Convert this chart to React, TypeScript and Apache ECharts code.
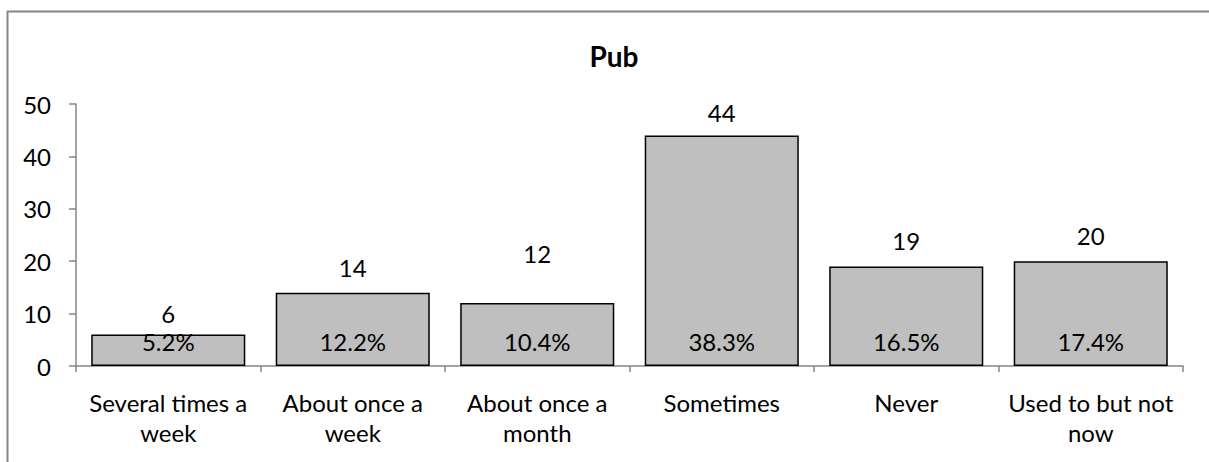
import React, { useEffect, useRef } from "react";
import * as echarts from "echarts";

const categories = [
  "Several times a\nweek",
  "About once a\nweek",
  "About once a\nmonth",
  "Sometimes",
  "Never",
  "Used to but not\nnow",
];
const counts = [6, 14, 12, 44, 19, 20];
const percents = ["5.2%", "12.2%", "10.4%", "38.3%", "16.5%", "17.4%"];
const yTicks = { min: 0, max: 50, interval: 10 };
const title = "Pub";

const FONT = "Lato, 'Open Sans', sans-serif";
const FS = 24;
// gap between bar top and count label (style only)
const countLabelGap = [9.5, 13.5, 37.5, 11, 14, 14];

export default function App() {
  const ref = useRef<HTMLDivElement>(null);
  useEffect(() => {
    if (!ref.current) return;
    const chart = echarts.init(ref.current, undefined, { renderer: "svg" });
    chart.setOption({
      animation: false,
      backgroundColor: "#fff",
      textStyle: { fontFamily: FONT, color: "#000" },
      title: {
        text: title,
        left: 609,
        top: 37,
        textAlign: "center",
        textStyle: { fontFamily: FONT, fontSize: 28, fontWeight: "bold", color: "#000" },
      },
      graphic: [
        {
          type: "rect",
          shape: { x: 7.5, y: 11.5, width: 1260, height: 500 },
          style: { fill: "none", stroke: "#868686", lineWidth: 2 },
          silent: true,
        },
      ],
      grid: { left: 76, right: 26, top: 104, bottom: 96, containLabel: false },
      xAxis: {
        type: "category",
        data: categories,
        axisLine: { lineStyle: { color: "#868686", width: 1.5 } },
        axisTick: { show: true, length: 6, lineStyle: { color: "#868686", width: 1.5 } },
        axisLabel: {
          interval: 0,
          fontFamily: FONT,
          fontSize: FS,
          color: "#000",
          lineHeight: 30,
          margin: 21,
        },
        splitLine: { show: false },
      },
      yAxis: {
        type: "value",
        min: yTicks.min,
        max: yTicks.max,
        interval: yTicks.interval,
        axisLine: { show: true, lineStyle: { color: "#868686", width: 1.5 } },
        axisTick: { show: true, length: 7, lineStyle: { color: "#868686", width: 1.5 } },
        axisLabel: { fontFamily: FONT, fontSize: FS, color: "#000", margin: 25 },
        splitLine: { show: false },
      },
      series: [
        {
          type: "bar",
          data: counts.map((v, i) => ({
            value: v,
            label: { distance: countLabelGap[i] },
          })),
          barCategoryGap: "16.5%",
          itemStyle: { color: "#bfbfbf", borderColor: "#000", borderWidth: 1.5 },
          label: {
            show: true,
            position: "top",
            fontFamily: FONT,
            fontSize: FS,
            color: "#000",
          },
          z: 2,
        },
        {
          type: "bar",
          data: counts,
          barGap: "-100%",
          barCategoryGap: "16.5%",
          itemStyle: { color: "rgba(0,0,0,0)" },
          label: {
            show: true,
            position: "insideBottom",
            distance: 13,
            fontFamily: FONT,
            fontSize: FS,
            color: "#000",
            formatter: (p: any) => percents[p.dataIndex],
          },
          silent: true,
          z: 3,
        },
      ],
    });
    return () => chart.dispose();
  }, []);
  return (
    <div
      ref={ref}
      style={{ position: "fixed", left: 0, top: 0, width: 1209, height: 462 }}
    />
  );
}
